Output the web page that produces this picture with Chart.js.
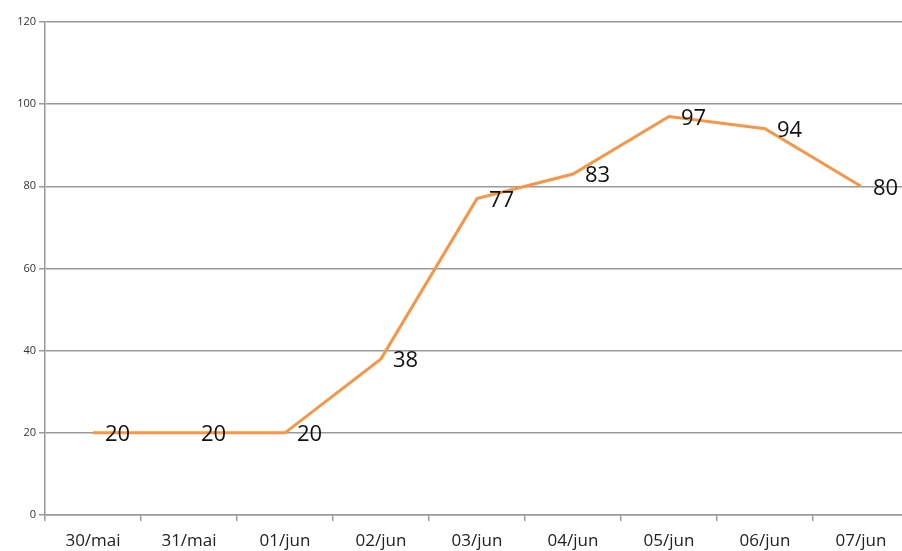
<!DOCTYPE html>
<html><head><meta charset="utf-8">
<script src="https://cdn.jsdelivr.net/npm/chart.js@4"></script>
<style>
html,body{margin:0;padding:0;background:#fff;overflow:hidden;}
#wrap{width:912px;height:551px;position:relative;}
</style></head>
<body>
<div id="wrap"><canvas id="c"></canvas></div>
<script>
const categories = ['30/mai','31/mai','01/jun','02/jun','03/jun','04/jun','05/jun','06/jun','07/jun'];
const values = [20,20,20,38,77,83,97,94,80];
const yTicks = [0,20,40,60,80,100,120];

const labelPlugin = {
  id:'lbl',
  afterDatasetsDraw(chart){
    const ctx = chart.ctx;
    const meta = chart.getDatasetMeta(0);
    ctx.save();
    ctx.font = '22px "Open Sans", "Liberation Sans", sans-serif';
    ctx.fillStyle = '#111';
    ctx.textBaseline = 'middle';
    ctx.textAlign = 'left';
    meta.data.forEach((p,i)=>{
      ctx.fillText(String(values[i]), p.x + 12, p.y + 2);
    });
    ctx.restore();
  }
};

new Chart(document.getElementById('c'), {
  type:'line',
  data:{labels:categories, datasets:[{data:values, borderColor:'#F79646', borderWidth:3, pointRadius:0, tension:0, fill:false}]},
  options:{
    responsive:true, maintainAspectRatio:false, animation:false,
    layout:{padding:{top:22,left:0,right:3,bottom:0}},
    plugins:{legend:{display:false}, tooltip:{enabled:false}},
    scales:{
      x:{
        offset:true,
        grid:{display:true, drawOnChartArea:false, drawTicks:true, tickLength:6, offset:true, color:'#999', lineWidth:1.5},
        border:{display:true, color:'#999', width:1.5},
        ticks:{color:'#222', font:{size:17, family:'"Open Sans", "Liberation Sans", sans-serif'}, padding:10, maxRotation:0, autoSkip:false},
        afterFit(s){ s.height = 36; }
      },
      y:{
        min:0, max:120,
        afterBuildTicks(s){ s.ticks = yTicks.map(v=>({value:v})); },
        grid:{color:'#999', lineWidth:1.5, drawTicks:true, tickLength:6},
        border:{display:true, color:'#999', width:1.5},
        ticks:{color:'#333', font:{size:11, family:'"Open Sans", "Liberation Sans", sans-serif'}, padding:3},
        afterFit(s){ s.width = 45; }
      }
    }
  },
  plugins:[labelPlugin]
});
</script>
</body></html>
